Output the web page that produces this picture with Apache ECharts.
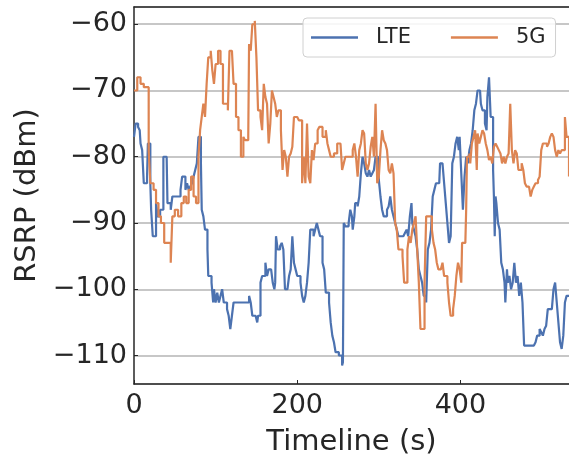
<!DOCTYPE html>
<html>
<head>
<meta charset="utf-8">
<script src="https://cdn.jsdelivr.net/npm/echarts@6/dist/echarts.min.js"></script>
<style>
html,body{margin:0;padding:0;background:#fff;}
#chart{width:569px;height:455px;}
</style>
</head>
<body>
<div id="chart"></div>
<script>
const seriesNames = ['LTE', '5G'];
const xTickValues = [0, 200, 400];

const lteTime = [0,2,5,7,8,10,12,16,17,19,20,21,23,25,27,29,32,34,36,40,41,43,45,47,51,54,57,59,61,63,65,67,69,71,73,75,77,79,82,83,85,87,90,91,93,95,97,98,100,102,104,106,108,110,112,114,116,118,120,122,135,
137,141,143,145,149,151,152,155,157,159,161,163,165,168,170,172,173,174,176,179,181,183,185,188,190,192,194,196,198,200,202,204,206,208,210,212,214,216,218,220,222,224,226,228,231,233,235,237,239,241,243,245,247,251,253,255,256,257,259,263,265,267,
268,270,271,274,276,278,280,282,284,286,288,290,292,294,296,299,300,302,304,306,308,310,312,314,316,318,320,322,324,330,332,334,336,338,340,341,343,345,347,349,351,353,355,358,360,362,364,366,368,370,374,375,378,380,382,384,386,388,390,392,394,396,398,
399,401,403,405,407,409,411,413,415,417,419,421,424,425,427,430,432,433,435,437,440,441,442,443,444,446,448,450,452,454,455,457,458,460,462,464,466,468,470,472,474,476,478,490,492,494,497,499,501,503,505,507,512,514,516,518,520,522,524,526,528,530,533];
const lteRsrp = [-77,-75,-75.5,-76,-78,-79,-84,-83,-78,-78,-84,-88,-92,-92,-87,-89,-88,-88,-80,-80,-87,-87,-88,-86,-86,-86,-85,-83,-83,-85,-84,-85,-84.5,-84,-83,-82,-81,-77,-81,-88,-89,-91,-94,-98,-98,-99,-102,-100,-102,-100.5,-102,-101,-100,-102,-102,-103,-104,-106,-104,-102,-102,
-102,-101,-102,-104,-104,-105,-104,-99,-98,-98,-96,-98,-97,-97,-99,-100,-99,-92,-94,-93.5,-93,-94,-100,-100,-98,-97,-92,-96,-97,-98,-98,-99,-101,-102,-101,-99,-96,-91,-91,-92,-91,-90,-91,-92,-96,-97,-100.5,-100.5,-102,-105,-107,-108,-109.5,-110,-110,-111.5,-111,-90,-90.5,-90,-88,-89,
-91,-89,-87,-87.5,-86,-82.5,-80,-81,-82.5,-83,-82,-83,-82.5,-82,-80,-80,-83.5,-86,-88,-89,-89,-88,-87.5,-86,-88,-89,-90,-91,-92,-92,-91.5,-91,-92,-89,-87,-90,-91,-92,-94,-97,-98,-99,-101,-102,-94,-93,-91,-86,-85,-84,-84,-81,-81,-84,-87,-90,-93,-92,-81,-80,-78,-77,-79,
-77,-82.5,-88,-83,-80,-81,-79,-78,-76,-73,-72,-70,-70,-72,-73,-75,-76,-71,-68,-74,-82,-86,-92,-86,-87,-90,-91,-96,-97,-99,-102,-97,-99,-98,-100,-99,-96,-99,-98,-101,-99,-102,-108.5,-108.5,-108,-107,-106,-106.5,-107,-106,-105.5,-103,-103,-100,-99,-102,-105,-108,-109,-107,-102,-101,-101];

const nrTime = [0,4,8,12,18,20,24,27,30,33,37,42,45,47,50,54,58,61,64,67,70,73,76,79,81,83,85,87,89,91,94,96,98,100,103,106,109,112,115,117,120,122,125,128,131,134,
136,140,141,143,145,148,150,152,155,157,159,161,163,165,167,169,171,173,175,177,180,182,184,186,188,190,192,194,196,200,202,206,208,210,212,214,216,218,220,222,225,227,231,235,237,239,241,245,249,253,255,257,259,263,
268,270,272,274,276,278,280,282,284,286,288,290,292,294,296,298,300,302,304,306,308,310,312,314,316,318,320,322,324,326,329,331,333,335,337,339,341,343,345,347,349,351,353,356,358,362,365,367,369,371,373,376,378,380,382,384,386,388,391,393,395,397,
399,401,402,406,407,408,411,412,414,416,418,420,421,423,425,427,429,431,433,435,437,439,441,443,445,447,449,451,453,455,457,459,461,463,465,467,469,471,473,475,477,479,481,484,486,488,490,492,495,497,499,501,503,506,508,510,512,514,516,518,520,522,524,526,528,530,533];
const nrRsrp = [-70,-68,-69,-69.5,-79,-84,-85,-87,-89,-90,-93,-93,-96,-89,-88,-89,-87,-86,-87,-85,-83,-86,-87,-80,-76,-74,-72,-74,-69,-65,-64,-67,-69,-66,-64,-66,-72,-72,-73,-64,-64,-69,-74,-76,-80,-77,
-77.5,-77,-63,-64,-60,-59.5,-65,-73,-74,-76,-69,-71,-72,-78,-75,-70,-71,-72,-74,-73,-76,-82,-79,-80,-83,-80,-79.5,-78.5,-74,-74,-74.5,-84,-80,-84,-75,-83,-84,-79,-80.5,-78,-76,-75.5,-77,-76,-78,-79,-80,-79.5,-78,-78,-82,-81,-80,-80,
-79,-78,-80,-83,-79,-78,-76,-76.5,-81,-82,-81,-78.5,-77,-80,-72,-84,-83,-79,-76,-77.5,-78,-79,-82,-82.5,-81,-82.5,-90,-91,-94,-94,-95,-99,-99,-94,-92,-93,-91,-90,-89,-94,-99,-106,-106,-99,-89,-89,-91,-93,-94,-96,-97,-97,-96,-98,-98,-99,-102,-104,-103,-101,-98,-96,
-97,-99,-93,-93,-88,-80,-79.5,-81,-78,-77,-76,-82,-76.5,-78,-77,-76,-76.5,-78,-79,-80.5,-80,-81,-78.5,-78,-78.5,-79,-79.5,-81,-80,-81,-80,-79.5,-72,-79,-81,-79,-79.5,-82,-82,-81,-82,-84,-84.5,-84.5,-86,-85,-84.5,-84,-83.5,-83,-79,-78,-78,-78.5,-78,-77,-76.5,-77,-79,-80,-79,-79.5,-79,-79,-74,-77,-83];

const fmt = v => (v < 0 ? '\u2212' + Math.abs(v) : String(v));
const chart = echarts.init(document.getElementById('chart'), null, {renderer: 'canvas'});
const FONT = 'DejaVu Sans';
chart.setOption({
  animation: false,
  backgroundColor: '#ffffff',
  textStyle: {fontFamily: FONT},
  grid: {left: 134, right: 0, top: 7, bottom: 71, containLabel: false, outerBoundsMode: 'none'},
  legend: {
    data: seriesNames,
    left: 303, top: 18,
    padding: [9, 10, 9, 8],
    itemGap: 40,
    itemWidth: 47, itemHeight: 2.5,
    icon: 'rect',
    backgroundColor: 'rgba(255,255,255,0.85)',
    borderColor: '#d0d0d0', borderWidth: 1, borderRadius: 4,
    textStyle: {fontSize: 21, color: '#262626', fontFamily: FONT, padding: [0, 0, 0, 13]}
  },
  xAxis: [{
    type: 'value', min: 0, max: 533, interval: 200,
    name: 'Timeline (s)', nameLocation: 'middle', nameGap: 44,
    nameTextStyle: {fontSize: 29, color: '#262626', fontFamily: FONT},
    axisLine: {show: true, onZero: false, lineStyle: {color: '#262626', width: 1.5}},
    axisTick: {show: true, inside: true, length: 4, lineStyle: {color: '#262626'},
      customValues: xTickValues},
    axisLabel: {fontSize: 27, color: '#262626', margin: 8, fontFamily: FONT,
      customValues: xTickValues, formatter: fmt},
    splitLine: {show: false}
  }, {
    type: 'value', position: 'top', min: 0, max: 533,
    axisLine: {show: true, lineStyle: {color: '#262626', width: 1.5}},
    axisTick: {show: false}, axisLabel: {show: false}, splitLine: {show: false}
  }],
  yAxis: {
    type: 'value', min: -114.3, max: -57.4,
    name: 'RSRP (dBm)', nameLocation: 'middle', nameGap: 92, nameRotate: 90,
    nameTextStyle: {fontSize: 29, color: '#262626', fontFamily: FONT},
    axisLine: {show: true, onZero: false, lineStyle: {color: '#262626', width: 1.5}},
    axisTick: {show: true, inside: true, length: 4, lineStyle: {color: '#262626'}},
    axisLabel: {fontSize: 27, color: '#262626', margin: 7, showMinLabel: false, showMaxLabel: false,
      fontFamily: FONT, formatter: fmt},
    splitLine: {show: true, lineStyle: {color: '#b4b4b4', width: 1.5}}
  },
  series: [
    {name: 'LTE', type: 'line', step: 'end', showSymbol: false, symbol: 'none',
     color: '#4c72b0', lineStyle: {width: 2.2, color: '#4c72b0'},
     data: lteTime.map((t, i) => [t, lteRsrp[i]])},
    {name: '5G', type: 'line', step: 'end', showSymbol: false, symbol: 'none',
     color: '#dd8452', lineStyle: {width: 2.2, color: '#dd8452'},
     data: nrTime.map((t, i) => [t, nrRsrp[i]])}
  ]
});
</script>
</body>
</html>
